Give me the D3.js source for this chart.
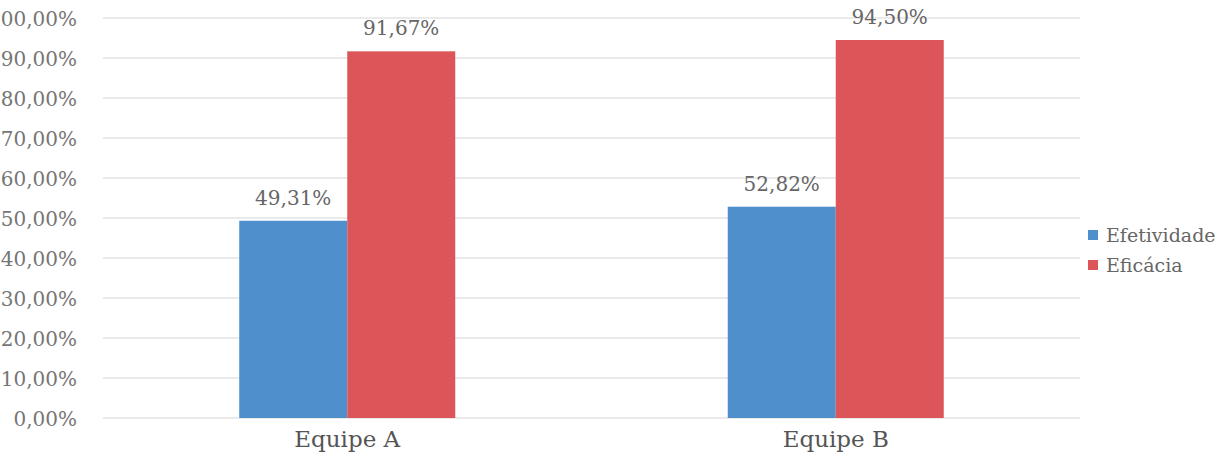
<!DOCTYPE html>
<html>
<head>
<meta charset="utf-8">
<script src="https://cdn.jsdelivr.net/npm/d3@7"></script>
<style>
  body { margin: 0; background: #fff; }
  svg text { fill: #595959; }
</style>
</head>
<body>
<svg id="chart" width="1232" height="455"></svg>
<script>
const categories = ['Equipe A', 'Equipe B'];
const seriesNames = ['Efetividade', 'Eficácia'];
const efetividade = [49.31, 52.82];
const eficacia = [91.67, 94.50];
const yTicks = [0, 10, 20, 30, 40, 50, 60, 70, 80, 90, 100];
const colors = ['#4f8fcb', '#dc5659'];

const svg = d3.select('#chart');
const width = 1232, height = 455;
const margin = { top: 18, right: 152, bottom: 37, left: 103 };

const fmt = v => v.toFixed(2).replace('.', ',') + '%';

// escalas
const x = d3.scaleBand()
  .domain(categories)
  .range([margin.left, width - margin.right]);

const x1 = d3.scaleBand()
  .domain(seriesNames)
  .range([x.bandwidth() / 2 - 108, x.bandwidth() / 2 + 108]);

const y = d3.scaleLinear()
  .domain([0, 100])
  .range([height - margin.bottom, margin.top]);

// grade
svg.append('g')
  .selectAll('line')
  .data(yTicks)
  .enter().append('line')
  .attr('x1', margin.left)
  .attr('x2', width - margin.right)
  .attr('y1', d => y(d))
  .attr('y2', d => y(d))
  .attr('stroke', '#e3e3e3')
  .attr('stroke-width', 1.5);

// eixo Y
const yAxis = svg.append('g')
  .attr('transform', `translate(${margin.left - 26},0)`)
  .call(d3.axisLeft(y).tickValues(yTicks).tickFormat(fmt).tickSize(0));
yAxis.select('.domain').remove();
yAxis.selectAll('text')
  .attr('x', 0)
  .attr('dy', '0.35em')
  .style('font-family', '"DejaVu Serif", serif')
  .style('font-size', '20px')
  .style('fill', '#767676');

// barras
const rows = categories.map((c, i) => ({ cat: c, vals: [efetividade[i], eficacia[i]] }));

const groups = svg.selectAll('.grp')
  .data(rows)
  .enter().append('g')
  .attr('class', 'grp')
  .attr('transform', d => `translate(${x(d.cat)},0)`);

groups.selectAll('rect')
  .data(d => d.vals.map((v, j) => ({ name: seriesNames[j], v, j })))
  .enter().append('rect')
  .attr('x', d => x1(d.name))
  .attr('width', x1.bandwidth())
  .attr('y', d => y(d.v))
  .attr('height', d => y(0) - y(d.v))
  .attr('fill', d => colors[d.j]);

groups.selectAll('.lbl')
  .data(d => d.vals.map((v, j) => ({ name: seriesNames[j], v, j })))
  .enter().append('text')
  .attr('class', 'lbl')
  .attr('x', d => x1(d.name) + x1.bandwidth() / 2)
  .attr('y', d => y(d.v) - 16)
  .attr('text-anchor', 'middle')
  .style('font-family', '"DejaVu Serif", serif')
  .style('font-size', '20px')
  .style('fill', '#666')
  .text(d => fmt(d.v));

// eixo X
const xAxis = svg.append('g')
  .attr('transform', `translate(0,${y(0)})`)
  .call(d3.axisBottom(x).tickSize(0));
xAxis.select('.domain').remove();
xAxis.selectAll('text')
  .attr('dy', null)
  .attr('y', 29)
  .style('font-family', '"DejaVu Serif", serif')
  .style('font-size', '23px')
  .style('fill', '#555');

// legenda
const legend = svg.append('g')
  .attr('transform', 'translate(1088,230)');
seriesNames.forEach((n, i) => {
  legend.append('rect')
    .attr('x', 0)
    .attr('y', i * 30)
    .attr('width', 10)
    .attr('height', 10)
    .attr('fill', colors[i]);
  legend.append('text')
    .attr('x', 18)
    .attr('y', i * 30 + 12)
    .style('font-family', '"DejaVu Serif", serif')
    .style('font-size', '19px')
    .style('fill', '#666')
    .text(n);
});
</script>
</body>
</html>
